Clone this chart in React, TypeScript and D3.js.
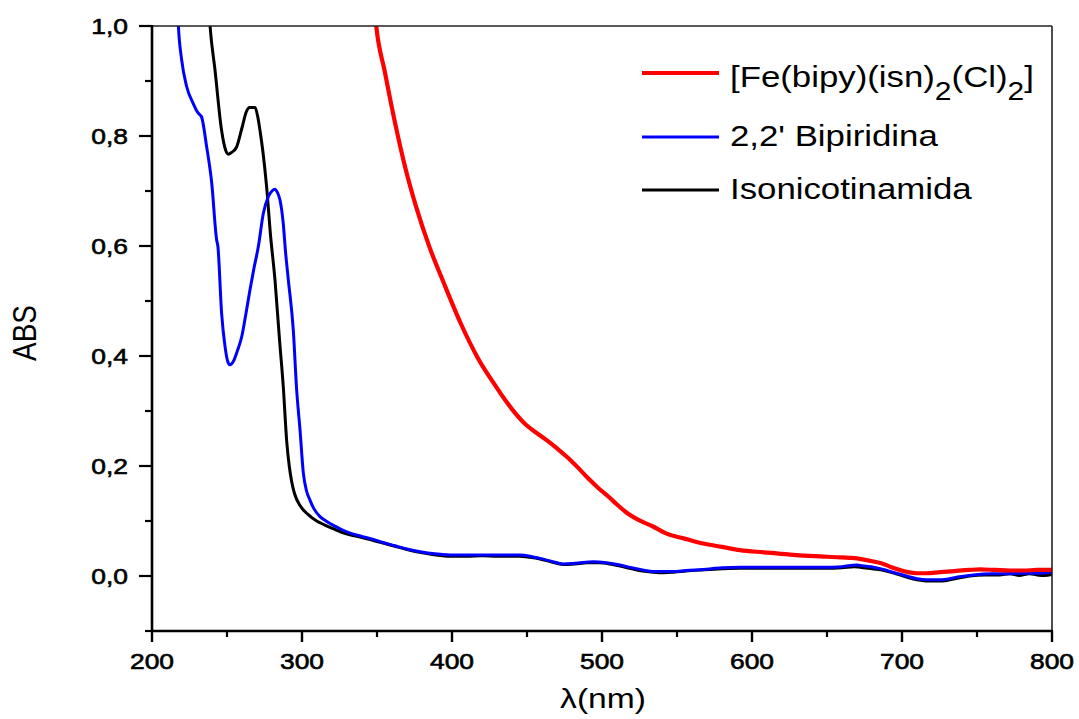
import React from "react";
import * as d3 from "d3";

// spectra: [wavelength nm, absorbance]
const isonicotinamida: [number, number][] = [
  [237.5, 1.05], [238.7, 1.0], [242, 0.92], [246.4, 0.81], [249, 0.775], [250.9, 0.767], [253, 0.77],
  [256.4, 0.78], [260, 0.815], [263, 0.845], [265, 0.852], [268.7, 0.852], [270.5, 0.835], [272, 0.81],
  [274, 0.77], [276.4, 0.708], [279, 0.62], [282, 0.538], [285, 0.43], [287.5, 0.345], [289.8, 0.245],
  [291.5, 0.2], [293.1, 0.172], [295, 0.15], [298.7, 0.128], [304, 0.112], [309.8, 0.1], [315, 0.093],
  [320.9, 0.086], [326, 0.08], [332, 0.075], [340, 0.07], [347, 0.065], [354, 0.06], [362, 0.054],
  [370, 0.048], [376.4, 0.044], [385, 0.04], [398.7, 0.036], [410, 0.036], [420, 0.037], [430, 0.036],
  [445, 0.036], [452, 0.034], [458.7, 0.031], [466, 0.026], [474, 0.021], [482, 0.022], [490, 0.024],
  [498, 0.024], [505, 0.022], [512, 0.018], [520, 0.013], [527, 0.009], [534, 0.007], [541, 0.006],
  [548, 0.007], [556, 0.009], [567, 0.011], [580, 0.013], [592, 0.014], [605, 0.014], [620, 0.014],
  [635, 0.014], [648, 0.014], [660, 0.015], [668, 0.017], [672, 0.016], [680, 0.013], [688, 0.01],
  [695, 0.005], [703, -0.002], [710, -0.007], [716, -0.009], [724, -0.009], [730, -0.008], [737, -0.004],
  [745, 0.0], [755, 0.002], [765, 0.002], [772, 0.004], [778, 0.001], [785, 0.004], [790, 0.002],
  [795, 0.001], [800, 0.003],
];

const bipiridina: [number, number][] = [
  [216.8, 1.05], [217.6, 1.0], [219.8, 0.938], [223.1, 0.89], [227.5, 0.859], [230, 0.845], [232, 0.838],
  [233, 0.835], [236.4, 0.781], [239.8, 0.715], [243.1, 0.611], [243.9, 0.6], [246.4, 0.478],
  [248.7, 0.417], [250.5, 0.39], [252, 0.384], [254.2, 0.39], [257, 0.41], [259.8, 0.435], [262.5, 0.475],
  [265.3, 0.52], [268, 0.56], [270.9, 0.599], [274.2, 0.659], [277.6, 0.69], [280, 0.7], [282, 0.703],
  [283.5, 0.698], [285.3, 0.684], [287.5, 0.641], [289, 0.59], [290.9, 0.538], [294.2, 0.447],
  [296.4, 0.34], [298.7, 0.265], [300.9, 0.187], [303, 0.155], [305.3, 0.138], [308, 0.122], [312, 0.108],
  [316, 0.1], [320.9, 0.092], [326, 0.085], [332, 0.078], [340, 0.072], [347, 0.067], [354, 0.061],
  [362, 0.055], [370, 0.049], [378.7, 0.044], [390, 0.04], [400.9, 0.038], [415, 0.038], [430, 0.038],
  [445.3, 0.038], [452, 0.036], [458.7, 0.032], [466, 0.027], [474.2, 0.022], [482, 0.023], [494.2, 0.026],
  [503, 0.024], [512, 0.02], [520, 0.015], [527, 0.011], [534.2, 0.008], [547.6, 0.008], [556, 0.01],
  [567.5, 0.012], [580, 0.015], [592, 0.016], [605, 0.016], [620, 0.016], [635, 0.016], [647.6, 0.016],
  [660, 0.017], [669.8, 0.02], [675, 0.018], [681, 0.016], [687.6, 0.012], [695, 0.006], [703.1, 0.0],
  [710, -0.005], [716.4, -0.007], [723, -0.007], [729.8, -0.006], [737, -0.002], [747.6, 0.002],
  [760, 0.004], [770, 0.004], [780.9, 0.005], [790, 0.005], [800, 0.007],
];

const complexo: [number, number][] = [
  [347.8, 1.05], [349.5, 1.0], [355.2, 0.917], [362.1, 0.823], [368.9, 0.742], [375.9, 0.673], [385, 0.598],
  [394.2, 0.535], [405.7, 0.46], [417.1, 0.397], [428.7, 0.347], [440.1, 0.303], [449.3, 0.275],
  [456, 0.261], [463.1, 0.247], [470, 0.232], [476.9, 0.216], [484, 0.197], [490.6, 0.178], [497.5, 0.16],
  [504.4, 0.144], [510, 0.13], [516.5, 0.115], [525, 0.101], [534, 0.09], [543.1, 0.077], [555, 0.068],
  [567.5, 0.059], [580, 0.053], [592, 0.047], [608, 0.043], [625.3, 0.039], [642, 0.036], [658.7, 0.034],
  [665, 0.033], [669.8, 0.032], [678, 0.028], [687.6, 0.022], [693, 0.016], [698.7, 0.011], [704, 0.007],
  [709.8, 0.005], [716, 0.005], [725.3, 0.007], [735, 0.009], [745, 0.011], [752, 0.012], [762, 0.011],
  [772, 0.01], [780.9, 0.01], [790, 0.011], [800, 0.011],
];

const xMajor = [200, 300, 400, 500, 600, 700, 800];
const xMinor = [250, 350, 450, 550, 650, 750];
const yMajor = [0, 0.2, 0.4, 0.6, 0.8, 1.0];
const yMinor = [-0.1, 0.1, 0.3, 0.5, 0.7, 0.9];

const W = 1079;
const H = 719;
const left = 152, right = 1052, top = 26, bottom = 631;
const SX = 1.2; // the original picture is stretched sideways
const font = "'Liberation Sans', Arial, sans-serif";

function Txt({ x, y, anchor, size, children, rotate, heavy }: any) {
  const tr = rotate
    ? `translate(${x},${y}) scale(${SX},1) rotate(${rotate})`
    : `translate(${x},${y}) scale(${SX},1)`;
  return (
    <g transform={tr}>
      <text
        textAnchor={anchor || "start"}
        fontSize={size}
        fontFamily={font}
        fill="#000"
        stroke={heavy ? "#000" : "none"}
        strokeWidth={heavy ? 0.6 : 0}
      >
        {children}
      </text>
    </g>
  );
}

export default function App() {
  const x = d3.scaleLinear().domain([200, 800]).range([left, right]);
  const y = d3.scaleLinear().domain([-0.1, 1.0]).range([bottom, top]);
  const line = d3
    .line<[number, number]>()
    .x((d) => x(d[0]))
    .y((d) => y(d[1]))
    .curve(d3.curveMonotoneX);
  const fmt = (v: number) => d3.format(".1f")(v).replace(".", ",");

  const legend = [
    { color: "#ff0000", w: 4, yy: 73 },
    { color: "#0000ff", w: 3, yy: 137 },
    { color: "#000000", w: 3, yy: 190 },
  ];

  return (
    <svg width={W} height={H} style={{ position: "absolute", left: 0, top: 0, background: "#fff" }}>
      <defs>
        <clipPath id="plot">
          <rect x={left} y={top} width={right - left} height={bottom - top} />
        </clipPath>
      </defs>

      <g clipPath="url(#plot)" fill="none" strokeLinejoin="round">
        <path d={line(isonicotinamida) || ""} stroke="#000" strokeWidth={3} />
        <path d={line(bipiridina) || ""} stroke="#0000ff" strokeWidth={3} />
        <path d={line(complexo) || ""} stroke="#ff0000" strokeWidth={4.2} />
      </g>

      {/* frame */}
      <line x1={left} x2={right} y1={top} y2={top} stroke="#222" strokeWidth={1.4} />
      <line x1={right} x2={right} y1={top} y2={bottom} stroke="#222" strokeWidth={1.6} />
      <line x1={left} x2={left} y1={top - 1} y2={bottom + 1} stroke="#000" strokeWidth={2.6} />
      <line x1={left - 1} x2={right + 1} y1={bottom} y2={bottom} stroke="#000" strokeWidth={2.6} />

      {/* x ticks */}
      {xMajor.map((v) => (
        <g key={"xM" + v}>
          <line x1={x(v)} x2={x(v)} y1={bottom} y2={bottom + 11} stroke="#000" strokeWidth={2.4} />
          <Txt x={x(v)} y={669} anchor="middle" size={22} heavy>{String(v)}</Txt>
        </g>
      ))}
      {xMinor.map((v) => (
        <line key={"xm" + v} x1={x(v)} x2={x(v)} y1={bottom} y2={bottom + 6} stroke="#000" strokeWidth={2.2} />
      ))}

      {/* y ticks */}
      {yMajor.map((v) => (
        <g key={"yM" + v}>
          <line x1={left - 13} x2={left} y1={y(v)} y2={y(v)} stroke="#000" strokeWidth={2.2} />
          <Txt x={128} y={y(v) + 8} anchor="end" size={22} heavy>{fmt(v)}</Txt>
        </g>
      ))}
      {yMinor.map((v) => (
        <line key={"ym" + v} x1={left - 7} x2={left} y1={y(v)} y2={y(v)} stroke="#000" strokeWidth={2.2} />
      ))}

      {/* axis titles */}
      <Txt x={36} y={333} anchor="middle" size={28} rotate={-90}>ABS</Txt>
      <Txt x={603} y={708} anchor="middle" size={28}>λ(nm)</Txt>

      {/* legend */}
      {legend.map((l) => (
        <line key={l.color} x1={642} x2={719} y1={l.yy} y2={l.yy} stroke={l.color} strokeWidth={l.w} />
      ))}
      <g transform={`translate(730,87) scale(${SX},1)`}>
        <text fontSize={29} fontFamily={font} fill="#000">
          [Fe(bipy)(isn)
          <tspan fontSize={25} dy={13}>2</tspan>
          <tspan dy={-13}>(Cl)</tspan>
          <tspan fontSize={25} dy={13}>2</tspan>
          <tspan dy={-13}>]</tspan>
        </text>
      </g>
      <Txt x={730} y={146} size={29}>2,2' Bipiridina</Txt>
      <Txt x={730} y={199} size={29}>Isonicotinamida</Txt>
    </svg>
  );
}
